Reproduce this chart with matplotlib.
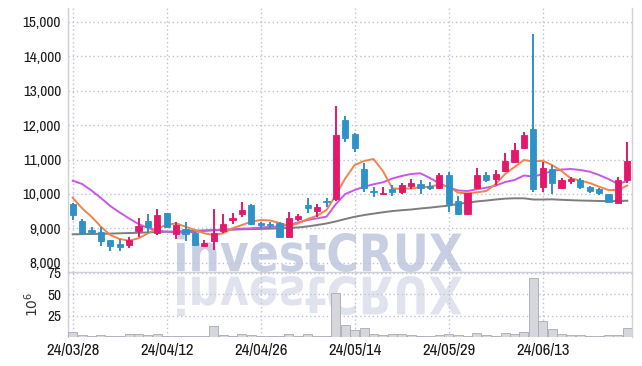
import numpy as np
import matplotlib
matplotlib.use("Agg")
import matplotlib.pyplot as plt
from matplotlib import font_manager as fm
from matplotlib.textpath import TextPath
from matplotlib.patches import PathPatch
from matplotlib.font_manager import FontProperties
from matplotlib.transforms import Affine2D

# trading days 24/03/28 .. 24/06/26
dates = ["24/03/28", "24/03/29", "24/04/01", "24/04/02", "24/04/03", "24/04/04", "24/04/05", "24/04/08",
         "24/04/09", "24/04/11", "24/04/12", "24/04/15", "24/04/16", "24/04/17", "24/04/18", "24/04/19",
         "24/04/22", "24/04/23", "24/04/24", "24/04/25", "24/04/26", "24/04/29", "24/04/30", "24/05/02",
         "24/05/03", "24/05/07", "24/05/08", "24/05/09", "24/05/10", "24/05/13", "24/05/14", "24/05/16",
         "24/05/17", "24/05/20", "24/05/21", "24/05/22", "24/05/23", "24/05/24", "24/05/27", "24/05/28",
         "24/05/29", "24/05/30", "24/05/31", "24/06/03", "24/06/04", "24/06/05", "24/06/07", "24/06/10",
         "24/06/11", "24/06/12", "24/06/13", "24/06/14", "24/06/17", "24/06/18", "24/06/19", "24/06/20",
         "24/06/21", "24/06/24", "24/06/25", "24/06/26"]

opens = [9701, 9217, 8956, 8898, 8666, 8550, 8530, 8936, 9217, 8860,
         9440, 8837, 8994, 8879, 8492, 8646, 8927, 9246, 9411, 9681,
         9150, 9140, 9150, 8762, 9275, 9681, 9507, 9797, 9846, 12146,
         11740, 10725, 10100, 10000, 10145, 10067, 10232, 10290, 10232, 10183,
         10551, 9797, 9411, 10183, 10551, 10444, 10676, 10937, 11343, 11885,
         10194, 10716, 10183, 10386, 10406, 10212, 10145, 10000, 9749, 10406]
highs = [9740, 9275, 9034, 9034, 8680, 8695, 8762, 9313, 9411, 9556,
         9460, 9198, 9179, 8900, 8666, 9556, 9411, 9440, 9777, 9700,
         9198, 9190, 9180, 9469, 9420, 9893, 9710, 9893, 12561, 12270,
         11760, 10890, 10212, 10212, 10261, 10310, 10426, 10406, 10357, 10600,
         10647, 9950, 10030, 10745, 10647, 10696, 11180, 11470, 11807, 14640,
         10937, 10841, 10470, 10502, 10455, 10241, 10160, 10005, 10502, 11500]
lows = [9246, 8811, 8840, 8501, 8347, 8347, 8425, 8762, 8860, 8811,
        9000, 8695, 8646, 8500, 8453, 8376, 8860, 9121, 9342, 9100,
        9005, 9020, 8715, 8745, 9217, 9440, 9342, 9632, 9797, 11517,
        11227, 10049, 9904, 9971, 9942, 9991, 10136, 9991, 10116, 10136,
        9469, 9390, 9390, 10136, 10357, 10261, 10647, 10890, 11296, 10067,
        10049, 9991, 10150, 10280, 10136, 10020, 9971, 9770, 9740, 10328]
closes = [9391, 8860, 8898, 8646, 8501, 8472, 8666, 9072, 9052, 9391,
          9052, 9101, 8831, 8530, 8569, 8860, 9130, 9313, 9536, 9130,
          9092, 9100, 8762, 9295, 9362, 9603, 9623, 9758, 11711, 11633,
          11343, 10183, 10070, 10040, 10050, 10261, 10328, 10165, 10165, 10551,
          9710, 9411, 10020, 10551, 10415, 10580, 10957, 11276, 11711, 10136,
          10763, 10328, 10406, 10435, 10212, 10096, 10020, 9777, 10406, 10957]

ma_short = [9893, 9585, 9342, 9052, 8811, 8695, 8646, 8715, 8860, 9005,
            9101, 9150, 9052, 8956, 8860, 8811, 8860, 9005, 9101, 9197,
            9246, 9232, 9159, 9072, 9150, 9275, 9371, 9536, 9971, 10455,
            10841, 10957, 11015, 10667, 10165, 10145, 10165, 10194, 10212, 10276,
            10212, 10038, 10020, 10049, 10087, 10290, 10580, 10783, 10986, 10943,
            10966, 10841, 10667, 10450, 10392, 10319, 10212, 10116, 10116, 10247]
ma_mid = [10386, 10290, 10102, 9884, 9652, 9464, 9290, 9130, 9014, 8942,
          8907, 8884, 8884, 8898, 8927, 8947, 8965, 8976, 8994, 9005,
          9029, 9043, 9058, 9101, 9179, 9246, 9295, 9342, 9710, 10000,
          10116, 10212, 10281, 10339, 10450, 10522, 10580, 10600, 10464, 10310,
          10194, 10102, 10087, 10136, 10183, 10241, 10348, 10406, 10537, 10502,
          10580, 10667, 10710, 10725, 10696, 10647, 10551, 10435, 10290, 10377]
ma_long = [8831, 8836, 8840, 8845, 8852, 8860, 8868, 8876, 8885, 8895,
           8905, 8915, 8925, 8935, 8945, 8955, 8962, 8968, 8975, 8982,
           8988, 8995, 9005, 9015, 9030, 9060, 9100, 9145, 9205, 9275,
           9340, 9390, 9430, 9470, 9505, 9530, 9550, 9580, 9605, 9635,
           9665, 9710, 9750, 9785, 9810, 9840, 9865, 9875, 9875, 9840,
           9840, 9845, 9832, 9820, 9811, 9805, 9797, 9795, 9797, 9805]

volume = [5.8, 2.3, 1.2, 2.3, 1.2, 1.2, 3.5, 3.5, 2.3, 3.5,
          1.2, 1.2, 1.2, 1.2, 1.2, 13.1, 2.3, 1.2, 3.5, 2.3,
          1.2, 1.2, 1.2, 3.5, 1.2, 3.5, 1.2, 1.2, 51.0, 14.3,
          8.5, 10.5, 3.5, 2.3, 3.5, 3.5, 2.3, 1.2, 1.2, 2.3,
          3.5, 2.3, 1.2, 4.6, 2.3, 1.2, 4.6, 3.5, 5.8, 68.6,
          19.0, 9.3, 3.5, 2.3, 2.3, 1.2, 1.2, 2.3, 2.3, 10.5]

up_col = '#e2186b'
down_col = '#2f92c7'
grid_col = '#bfc1d8'

# upright narrow font for tick labels (Liberation Sans Narrow if present)
narrow_file = None
for f in fm.fontManager.ttflist:
    if f.name == 'Liberation Sans Narrow' and f.style == 'normal' and f.weight in (700, 'bold'):
        narrow_file = f.fname
        break
if narrow_file is None:
    for f in fm.fontManager.ttflist:
        if 'Narrow' in f.name and f.style == 'normal':
            narrow_file = f.fname
            break

if narrow_file:
    ytick_fp = FontProperties(fname=narrow_file, size=11)
    xtick_fp = FontProperties(fname=narrow_file, size=12)
else:
    ytick_fp = FontProperties(family='Roboto', size=9.5)
    xtick_fp = FontProperties(family='Roboto', size=10)

W, H = 642, 366
fig = plt.figure(figsize=(W / 100, H / 100), dpi=100)
fig.patch.set_facecolor('white')
ax = fig.add_axes([68 / W, 1 - 272 / H, 564 / W, 264 / H])
vax = fig.add_axes([68 / W, 1 - 337.3 / H, 564 / W, 65.3 / H], sharex=ax)

x = np.arange(len(dates))
o = np.array(opens)
c = np.array(closes)
up = c >= o
colors = np.where(up, up_col, down_col)
body_lo = np.minimum(o, c)
body_h = np.maximum(np.abs(c - o), 18)

ax.vlines(x, lows, highs, colors=colors, linewidth=1.4, zorder=3)
ax.bar(x, body_h, bottom=body_lo, width=0.66, color=colors, edgecolor=colors, linewidth=0.6, zorder=4)
ax.plot(x, ma_long, color='#7d7d7d', linewidth=1.4, zorder=2)
ax.plot(x, ma_mid, color='#cc55e8', linewidth=1.4, zorder=2)
ax.plot(x, ma_short, color='#f0844a', linewidth=1.4, zorder=2)

vax.bar(x, volume, width=0.96, color='#d6d6dd', edgecolor='#a9a9b2', linewidth=0.6, zorder=3)

ax.set_xlim(-0.5, len(dates) - 0.5)
ax.set_ylim(7738, 15394)
vax.set_ylim(0, 76)

ax.set_yticks(np.arange(8000, 15001, 1000))
ax.set_yticklabels([f"{v:,}" for v in range(8000, 15001, 1000)])
vax.set_yticks([25, 50, 75])
vax.set_xticks(x[::10])
vax.set_xticklabels(dates[::10])
ax.tick_params(axis='x', labelbottom=False, length=0)

for a in (ax, vax):
    a.set_facecolor('none')
    a.set_axisbelow(True)
    a.xaxis.grid(True, color=grid_col, linestyle=(0, (1, 2)), linewidth=1)
    a.yaxis.grid(True, color=grid_col, linestyle=(0, (1, 2)), linewidth=1)
    a.tick_params(axis='y', length=0, pad=5, colors='#1a1a1a')
    for lbl in a.get_yticklabels():
        lbl.set_fontproperties(ytick_fp)
    for s in a.spines.values():
        s.set_color('#d0d0d8')
        s.set_linewidth(1)
    a.spines['top'].set_visible(False)
vax.tick_params(axis='x', length=0, pad=4, colors='#1a1a1a')
for lbl in vax.get_xticklabels():
    lbl.set_fontproperties(xtick_fp)
vax.spines['bottom'].set_visible(False)
vax.set_ylabel(r'$10^6$', fontsize=10, color='#333333')
vax.yaxis.set_label_coords(-0.047, 0.5)

# watermark with reflection
wm_fp = FontProperties(fname=fm.findfont(FontProperties(family='DejaVu Sans', weight='bold')))
tp = TextPath((0, 0), "investCRUX", size=1, prop=wm_fp)
bb = tp.get_extents()
sx = (462 - 177) / bb.width / W
sy = (272 - 232) / bb.height / H
t1 = Affine2D().translate(-bb.x0, -bb.y0).scale(sx, sy).translate(177 / W, 1 - 272 / H)
t2 = Affine2D().translate(-bb.x0, -bb.y0).scale(sx, -sy).translate(177 / W, 1 - 276 / H)
wm = PathPatch(t1.transform_path(tp), facecolor='#c9cfe3', edgecolor='none', transform=fig.transFigure, zorder=-1)
wr = PathPatch(t2.transform_path(tp), facecolor='#e0e3ee', edgecolor='none', transform=fig.transFigure, zorder=-1)
fig.add_artist(wm)
fig.add_artist(wr)

fig.savefig('out.png', dpi=100)
